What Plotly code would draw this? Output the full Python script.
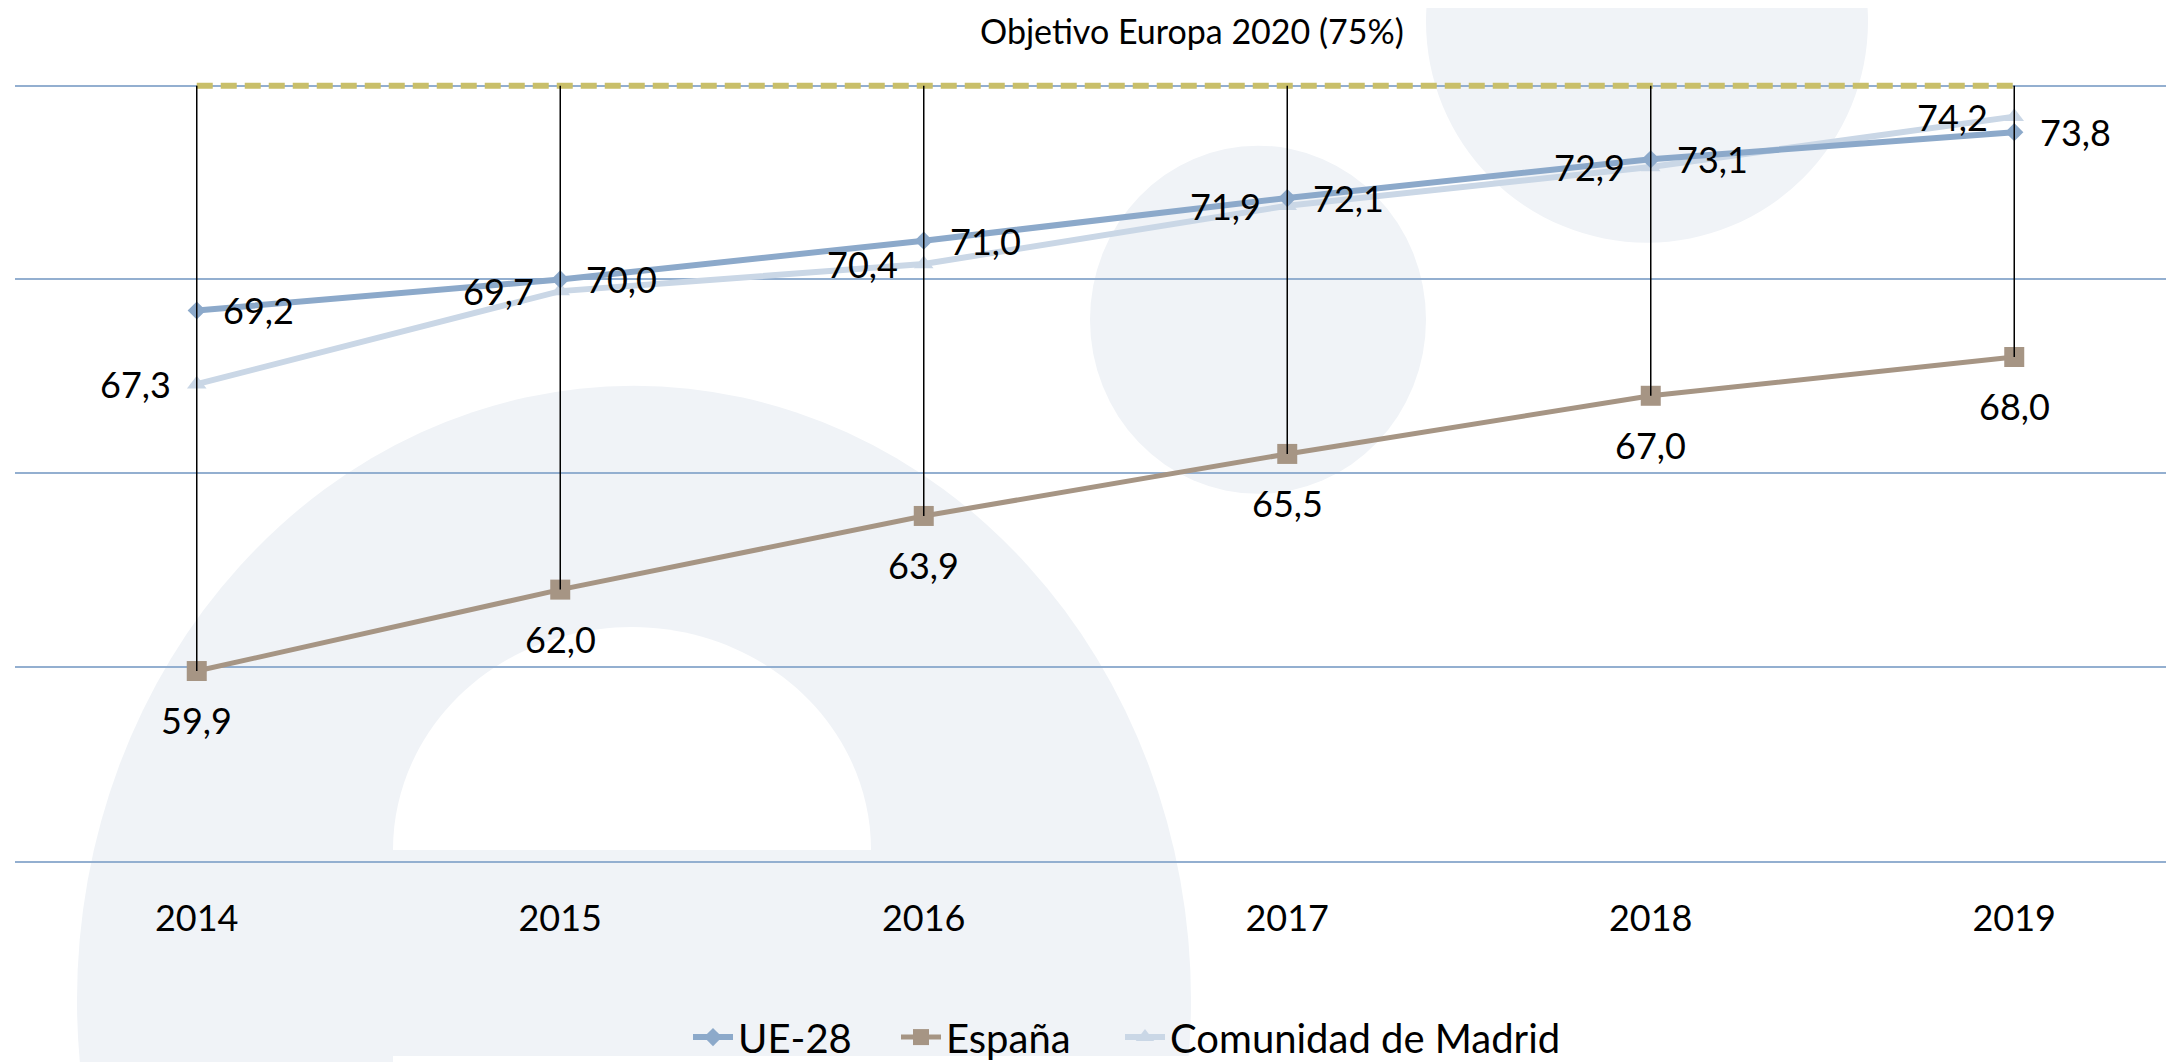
import plotly.graph_objects as go

# ---------------- data ----------------
years = ["2014", "2015", "2016", "2017", "2018", "2019"]
ue28 = [69.2, 70.0, 71.0, 72.1, 73.1, 73.8]
espana = [59.9, 62.0, 63.9, 65.5, 67.0, 68.0]
madrid = [67.3, 69.7, 70.4, 71.9, 72.9, 74.2]
objetivo = [75, 75, 75, 75, 75, 75]
objetivo_label = "Objetivo Europa 2020 (75%)"
y_ticks = [55, 60, 65, 70, 75]

# ---------------- layout geometry (pixels) ----------------
OFF = 8                               # default page body margin
W, H = 2174 - OFF, 1062 - OFF
Y_MIN, Y_MAX, Y_PAD = 55, 75, 0.3
PX_UNIT = (861 - 86) / (Y_MAX - Y_MIN)   # pixels per axis unit
CAT_PX = 363.5                           # pixels per category
ML, MR = 15 - OFF, 0
MT = (86 - OFF) - Y_PAD * PX_UNIT
PW = W - ML - MR
PH = (Y_MAX + Y_PAD - Y_MIN) * PX_UNIT
MB = H - MT - PH
X_RANGE = [-0.5, -0.5 + PW / CAT_PX]


def px_x(x):                 # page pixel -> paper
    return (x - OFF - ML) / PW


def px_y(y):
    return ((H - MB) - (y - OFF)) / PH


def fmt(v):
    return f"{v:.1f}".replace(".", ",")


FONT = "Lato, 'Open Sans', sans-serif"
C_UE = "#8CA9CA"
C_ES = "#A69584"
C_MAD = "#CAD7E6"
C_OBJ = "#C9BF6A"
C_GRID = "#93AFD0"
C_BG = "#F0F3F7"

fig = go.Figure()

fig.add_trace(go.Scatter(
    x=years, y=madrid, name="Comunidad de Madrid", mode="lines+markers",
    line=dict(color=C_MAD, width=6),
    marker=dict(symbol="triangle-up", size=17, color=C_MAD),
    legend="legend3", cliponaxis=False,
))
fig.add_trace(go.Scatter(
    x=years, y=espana, name="España", mode="lines+markers",
    line=dict(color=C_ES, width=5),
    marker=dict(symbol="square", size=20, color=C_ES),
    legend="legend2", cliponaxis=False,
))
fig.add_trace(go.Scatter(
    x=years, y=ue28, name="UE-28", mode="lines+markers",
    line=dict(color=C_UE, width=6),
    marker=dict(symbol="diamond", size=14, color=C_UE),
    legend="legend", cliponaxis=False,
))
fig.add_trace(go.Scatter(
    x=years, y=objetivo, name=objetivo_label, mode="lines",
    line=dict(color=C_OBJ, width=6, dash="16px,8px"),
    showlegend=False, cliponaxis=False,
))

# high-low lines
hl_x, hl_y = [], []
for i, yr in enumerate(years):
    vals = [ue28[i], espana[i], madrid[i], objetivo[i]]
    hl_x += [yr, yr, None]
    hl_y += [max(vals), min(vals), None]
fig.add_trace(go.Scatter(
    x=hl_x, y=hl_y, mode="lines", line=dict(color="#000000", width=1.5),
    showlegend=False, hoverinfo="skip", cliponaxis=False,
))

# ---------------- data labels ----------------
ann = []
lab_font = dict(family=FONT, size=36, color="#000000")
for i, v in enumerate(ue28):
    ann.append(dict(x=i, y=v, xref="x", yref="y", text=fmt(v), showarrow=False,
                    xanchor="left", yanchor="middle", xshift=24, font=lab_font))
for i, v in enumerate(madrid):
    ann.append(dict(x=i, y=v, xref="x", yref="y", text=fmt(v), showarrow=False,
                    xanchor="right", yanchor="middle", xshift=-24, font=lab_font))
for i, v in enumerate(espana):
    ann.append(dict(x=i, y=v, xref="x", yref="y", text=fmt(v), showarrow=False,
                    xanchor="center", yanchor="middle", yshift=-49, font=lab_font))
ann.append(dict(x=px_x(1192), y=px_y(31), xref="paper", yref="paper",
                text=objetivo_label, showarrow=False, xanchor="center",
                yanchor="middle", font=dict(family=FONT, size=34, color="#000000")))

# ---------------- background watermark shapes ----------------
shapes = []
shapes.append(dict(type="circle", xref="paper", yref="paper",
                   x0=px_x(77), x1=px_x(1191), y0=px_y(1614), y1=px_y(386),
                   fillcolor=C_BG, line=dict(width=0), layer="below"))
cx, cy, rx, ry = 632, 850, 239, 223
k = 0.5523
pts = [
    (cx - rx, cy),
    (cx - rx, cy - k * ry), (cx - k * rx, cy - ry), (cx, cy - ry),
    (cx + k * rx, cy - ry), (cx + rx, cy - k * ry), (cx + rx, cy),
]
P = [(px_x(a), px_y(b)) for a, b in pts]
path = (f"M {P[0][0]},{P[0][1]} C {P[1][0]},{P[1][1]} {P[2][0]},{P[2][1]} {P[3][0]},{P[3][1]} "
        f"C {P[4][0]},{P[4][1]} {P[5][0]},{P[5][1]} {P[6][0]},{P[6][1]} Z")
shapes.append(dict(type="path", xref="paper", yref="paper", path=path,
                   fillcolor="#FFFFFF", line=dict(width=0), layer="below"))
shapes.append(dict(type="rect", xref="paper", yref="paper",
                   x0=px_x(393), x1=px_x(1200), y0=px_y(1070), y1=px_y(1056),
                   fillcolor="#FFFFFF", line=dict(width=0), layer="below"))
shapes.append(dict(type="circle", xref="paper", yref="paper",
                   x0=px_x(1090), x1=px_x(1426), y0=px_y(494), y1=px_y(146),
                   fillcolor=C_BG, line=dict(width=0), layer="below"))
shapes.append(dict(type="circle", xref="paper", yref="paper",
                   x0=px_x(1426), x1=px_x(1868), y0=px_y(243), y1=px_y(-199),
                   fillcolor=C_BG, line=dict(width=0), layer="below"))


def leg(x_page):
    return dict(orientation="h", x=px_x(x_page), xanchor="left",
                y=px_y(1037), yanchor="middle",
                font=dict(family=FONT, size=40, color="#000000"),
                bgcolor="rgba(0,0,0,0)", itemwidth=40)


fig.update_layout(
    width=W, height=H,
    margin=dict(l=ML, r=MR, t=MT, b=MB, pad=0, autoexpand=False),
    paper_bgcolor="#FFFFFF", plot_bgcolor="rgba(0,0,0,0)",
    font=dict(family=FONT, size=36, color="#000000"),
    showlegend=True,
    legend=leg(688),
    legend2=leg(896),
    legend3=leg(1120),
    annotations=ann,
    shapes=shapes,
    hovermode=False,
)
fig.update_xaxes(type="category", range=X_RANGE, showgrid=False,
                 showline=True, linecolor=C_GRID, linewidth=2, layer="below traces",
                 ticks="", ticklabelstandoff=25,
                 tickfont=dict(family=FONT, size=36, color="#000000"),
                 zeroline=False, fixedrange=True)
fig.update_yaxes(range=[Y_MIN, Y_MAX + Y_PAD], tickvals=y_ticks, showticklabels=False,
                 showgrid=True, gridcolor=C_GRID, gridwidth=2, zeroline=False,
                 showline=False, ticks="", fixedrange=True)

fig.write_html("out.html")
